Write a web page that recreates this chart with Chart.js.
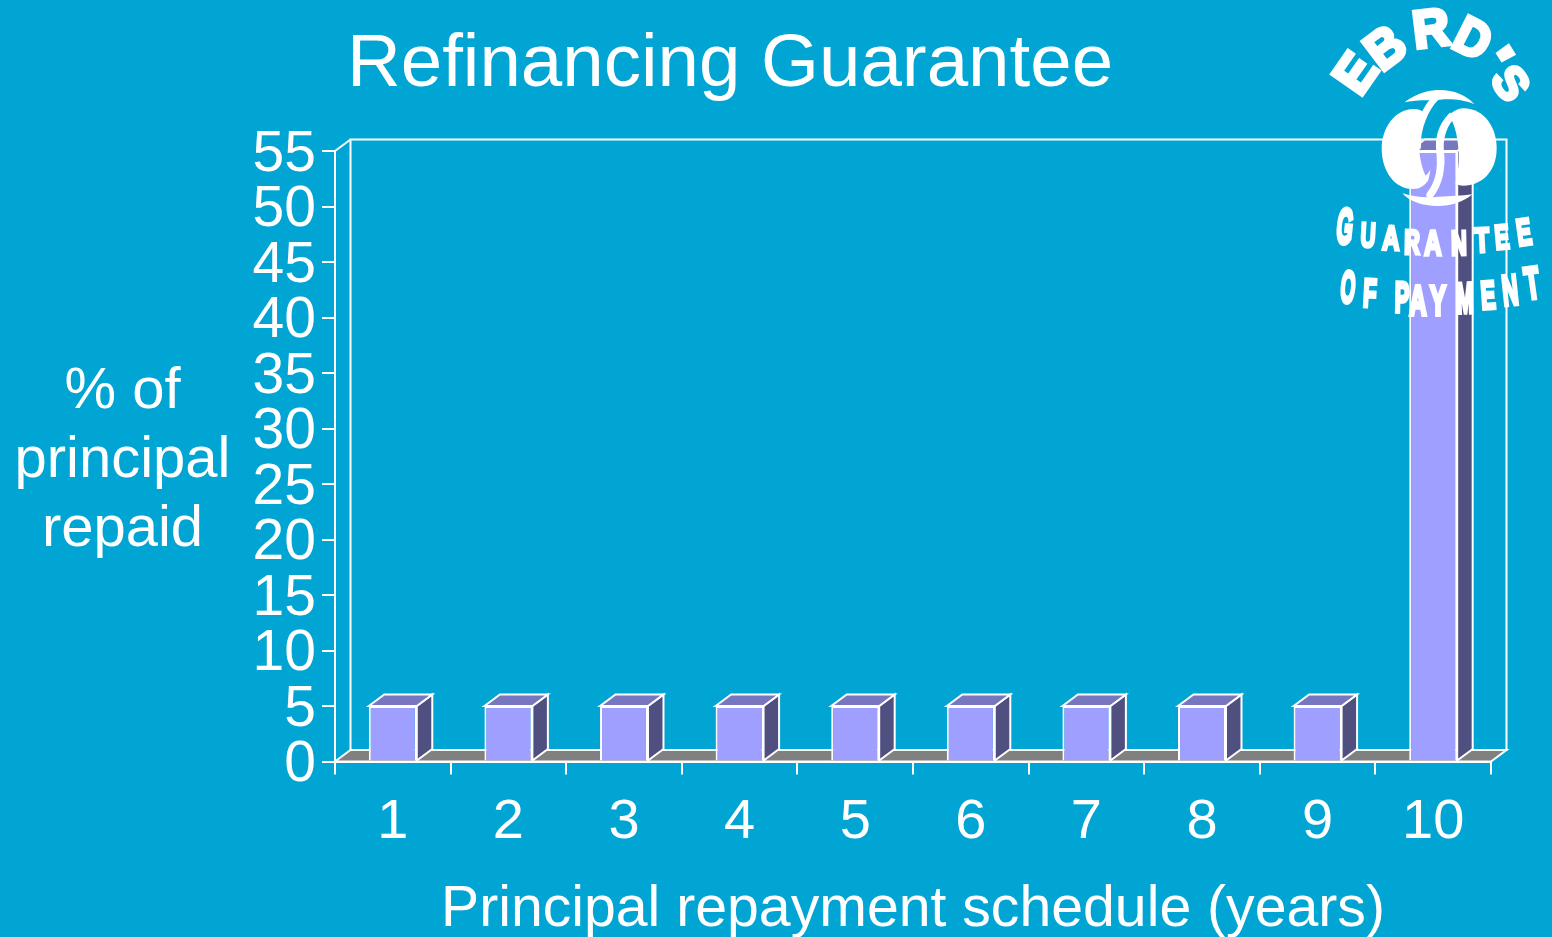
<!DOCTYPE html>
<html>
<head>
<meta charset="utf-8">
<title>Refinancing Guarantee</title>
<script src="https://cdn.jsdelivr.net/npm/chart.js@4"></script>
<style>
  html, body { margin: 0; padding: 0; background: #00a5d3; overflow: hidden; }
  #wrap { position: relative; width: 1552px; height: 937px; font-family: "Liberation Sans", Arial, sans-serif; color: #fff; }
  #chart { position: absolute; left: 0; top: 0; }
  .title { position: absolute; left: 230px; width: 1000px; top: 18px; text-align: center; font-size: 74.5px; line-height: 86px; white-space: nowrap; }
  .ylabel { position: absolute; left: 0; width: 245px; top: 353px; text-align: center; font-size: 58px; line-height: 69px; }
  .logo { position: absolute; line-height: 1; font-weight: bold; white-space: pre; font-size: 52px; -webkit-text-stroke-color: #fff; }
</style>
</head>
<body>
<div id="wrap">
  <canvas id="chart" width="1552" height="937"></canvas>
  <div class="title">Refinancing Guarantee</div>
  <div class="ylabel">% of<br>principal<br>repaid</div>
</div>
<script>
// --- Data ---
const categories = ["1", "2", "3", "4", "5", "6", "7", "8", "9", "10"];
const principalRepaid = [5, 5, 5, 5, 5, 5, 5, 5, 5, 55];
const yMax = 55;
const yStep = 5;
const xTitle = "Principal repayment schedule (years)";

// --- Colours ---
const WHITE = "#ffffff";
const FRONT = "#9f9fff";
const TOP = "#7777bf";
const SIDE = "#4f4f80";
const FLOOR = "#808080";

// 3D depth of the box chart
const DX = 15.5;
const DY = -11.5;

function poly(ctx, pts, fill) {
  ctx.beginPath();
  pts.forEach((p, i) => (i ? ctx.lineTo(p[0], p[1]) : ctx.moveTo(p[0], p[1])));
  ctx.closePath();
  if (fill) {
    ctx.fillStyle = fill;
    ctx.fill();
  }
  ctx.strokeStyle = WHITE;
  ctx.lineWidth = 2;
  ctx.stroke();
}

// back wall + floor, behind the bars
const wallPlugin = {
  id: "wall",
  beforeDatasetsDraw(chart) {
    const { ctx, chartArea: a } = chart;
    ctx.save();
    poly(ctx, [[a.left + DX, a.bottom + DY], [a.left + DX, a.top + DY], [a.right + DX, a.top + DY], [a.right + DX, a.bottom + DY]]);
    ctx.beginPath();
    ctx.moveTo(a.left, a.top);
    ctx.lineTo(a.left + DX, a.top + DY);
    ctx.strokeStyle = WHITE;
    ctx.lineWidth = 2;
    ctx.stroke();
    poly(ctx, [[a.left, a.bottom], [a.left + DX, a.bottom + DY], [a.right + DX, a.bottom + DY], [a.right, a.bottom]], FLOOR);
    ctx.restore();
  },
};

// top and side faces of each bar
const boxPlugin = {
  id: "box",
  afterDatasetsDraw(chart) {
    const { ctx } = chart;
    ctx.save();
    chart.getDatasetMeta(0).data.forEach((bar) => {
      const l = bar.x - bar.width / 2;
      const r = bar.x + bar.width / 2;
      const t = bar.y;
      const b = bar.base;
      poly(ctx, [[r, t], [r + DX, t + DY], [r + DX, b + DY], [r, b]], SIDE);
      poly(ctx, [[l, t], [l + DX, t + DY], [r + DX, t + DY], [r, t]], TOP);
    });
    ctx.restore();
  },
};

// bank emblem (coordinates of a 130x125 box at 1375,85, times 3)
const emblemPlugin = {
  id: "emblem",
  afterDraw(chart) {
    const { ctx } = chart;
    ctx.save();
    ctx.translate(1375, 85);
    ctx.scale(1 / 3, 1 / 3);
    ctx.fillStyle = WHITE;
    ctx.strokeStyle = WHITE;

    // left blob, with the left petal cut out of it
    ctx.save();
    ctx.clip(new Path2D("M-50 -50H450V450H-50Z M172 55C140 100 128 150 132 190C135 225 143 255 152 272C172 255 185 225 182 180C180 150 195 115 222 85Z"), "evenodd");
    ctx.fill(new Path2D("M118 72C60 70 20 130 20 190C20 260 60 312 112 312C135 312 150 302 160 285C175 240 175 130 150 85C140 76 130 72 118 72Z"));
    ctx.restore();

    // right blob, with the right petal cut out of it
    ctx.save();
    ctx.clip(new Path2D("M-50 -50H450V450H-50Z M230 105C210 140 203 170 207 200C212 250 205 290 170 335L232 335C245 290 255 240 250 190C248 160 242 130 230 105Z"), "evenodd");
    ctx.fill(new Path2D("M265 70C330 70 365 130 365 190C365 260 320 302 265 302C225 302 195 260 195 185C195 120 225 70 265 70Z"));
    ctx.restore();

    // top crescent and bottom crescent
    ctx.fill(new Path2D("M88 52C130 20 170 15 195 15C235 15 275 30 298 58C260 42 225 42 195 44C160 46 125 44 88 52Z"));
    ctx.fill(new Path2D("M82 325C120 338 160 338 190 335C225 333 260 333 292 328C265 352 225 364 185 363C145 362 105 352 82 325Z"));

    // the two strokes that link them
    ctx.lineCap = "round";
    ctx.lineWidth = 20;
    ctx.stroke(new Path2D("M185 35C150 70 125 130 128 185"));
    ctx.lineWidth = 22;
    ctx.stroke(new Path2D("M228 95C200 125 190 160 195 200C200 250 195 290 165 330"));
    ctx.restore();
  },
};

Chart.defaults.font.family = '"Liberation Sans", Arial, sans-serif';
Chart.defaults.color = WHITE;

new Chart(document.getElementById("chart").getContext("2d"), {
  type: "bar",
  data: {
    labels: categories,
    datasets: [
      {
        data: principalRepaid,
        backgroundColor: FRONT,
        borderColor: WHITE,
        borderWidth: 2,
        barPercentage: 0.415,
        categoryPercentage: 1,
      },
    ],
  },
  plugins: [wallPlugin, boxPlugin, emblemPlugin],
  options: {
    responsive: false,
    animation: false,
    layout: { padding: { top: 151, right: 61, left: 0, bottom: 0 } },
    plugins: { legend: { display: false }, tooltip: { enabled: false } },
    scales: {
      x: {
        afterFit(s) { s.height = 175.5; },
        grid: { color: WHITE, lineWidth: 2, drawOnChartArea: false, tickLength: 13 },
        border: { color: WHITE, width: 2 },
        ticks: { font: { size: 56 }, color: WHITE, padding: 14, maxRotation: 0 },
        title: { display: true, text: xTitle, color: WHITE, font: { size: 57.2 }, padding: { top: 8, bottom: -8 } },
      },
      y: {
        min: 0,
        max: yMax,
        afterFit(s) { s.width = 335; },
        grid: { color: WHITE, lineWidth: 2, drawOnChartArea: false, tickLength: 13 },
        border: { color: WHITE, width: 2 },
        ticks: { stepSize: yStep, autoSkip: false, font: { size: 57 }, color: WHITE, padding: 6, labelOffset: 4 },
      },
    },
  },
});

// --- Emblem lettering: letter, centre x, centre y, rotation, scale x, scale y, outline ---
const logoLetters = [
  ["E", 1355, 73, -55, 1.0, 1.02, 4],
  ["B", 1385, 47, -37, 0.95, 1.02, 4],
  ["R", 1431, 28, -7, 0.98, 1.02, 4],
  ["D", 1473, 38, 27, 0.92, 1.0, 4],
  ["'", 1495, 60, 58, 1.5, 1.1, 2],
  ["S", 1511, 83, 55, 0.9, 0.88, 4],
  ["G", 1345, 226, 6, 0.4, 0.95, 5],
  ["U", 1368, 235, 3, 0.4, 0.66, 5],
  ["A", 1391, 238, 2, 0.46, 0.66, 5],
  ["R", 1412, 242, 1, 0.42, 0.66, 5],
  ["A", 1433, 243, 0, 0.46, 0.66, 5],
  ["N", 1459, 243, -1, 0.42, 0.66, 5],
  ["T", 1482, 240, -3, 0.46, 0.66, 5],
  ["E", 1502, 237, -5, 0.42, 0.66, 5],
  ["E", 1524, 232, -8, 0.42, 0.72, 5],
  ["O", 1348, 287, 5, 0.36, 0.86, 5],
  ["F", 1370, 293, 3, 0.42, 0.76, 5],
  ["P", 1402, 297, 1, 0.42, 0.82, 5],
  ["A", 1418, 300, 0, 0.46, 0.82, 5],
  ["Y", 1438, 300, 0, 0.46, 0.82, 5],
  ["M", 1465, 298, -2, 0.38, 0.82, 5],
  ["E", 1488, 295, -4, 0.42, 0.76, 5],
  ["N", 1510, 290, -6, 0.42, 0.82, 5],
  ["T", 1532, 283, -8, 0.46, 0.86, 5],
];
const wrap = document.getElementById("wrap");
logoLetters.forEach(([ch, x, y, rot, sx, sy, outline]) => {
  const el = document.createElement("span");
  el.className = "logo";
  el.textContent = ch;
  el.style.left = x + "px";
  el.style.top = y + "px";
  el.style.webkitTextStrokeWidth = outline + "px";
  el.style.transform = `translate(-50%, -50%) rotate(${rot}deg) scale(${sx}, ${sy})`;
  wrap.appendChild(el);
});
</script>
</body>
</html>
